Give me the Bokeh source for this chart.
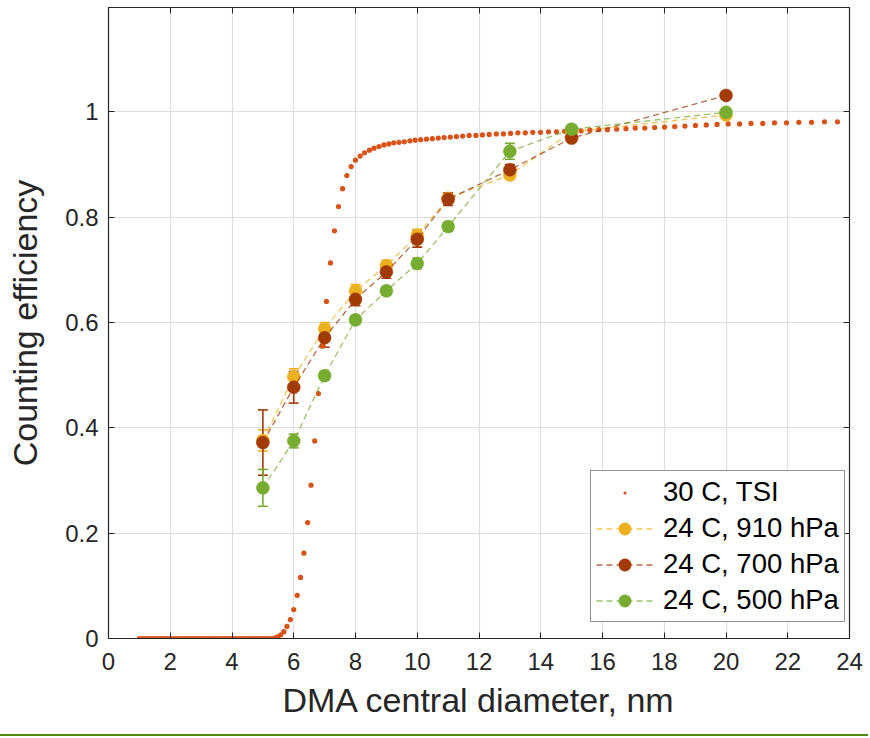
from bokeh.plotting import figure
from bokeh.models import (ColumnDataSource, Whisker, TeeHead, Legend, LegendItem,
                          FixedTicker, Range1d, LinearAxis)
from bokeh.embed import file_html
from bokeh.resources import INLINE

# ---------------- data ----------------
# TSI reference curve (30 C)
tsi_x = [1.0, 1.1, 1.2, 1.3, 1.4, 1.5, 1.6, 1.7, 1.8, 1.9,
         2.0, 2.1, 2.2, 2.3, 2.4, 2.5, 2.6, 2.7, 2.8, 2.9,
         3.0, 3.1, 3.2, 3.3, 3.4, 3.5, 3.6, 3.7, 3.8, 3.9,
         4.0, 4.1, 4.2, 4.3, 4.4, 4.5, 4.6, 4.7, 4.8, 4.9,
         5.0, 5.1, 5.2, 5.3, 5.4,
         5.48, 5.58, 5.68, 5.78, 5.89, 6.00, 6.11, 6.22, 6.33, 6.45,
         6.56, 6.68, 6.80, 6.93, 7.06, 7.19, 7.32, 7.45, 7.58, 7.72,
         7.86, 8.00, 8.15, 8.29, 8.45, 8.60, 8.76, 8.92, 9.08, 9.24,
         9.41, 9.58, 9.76, 9.93, 10.11, 10.30, 10.49, 10.68, 10.87, 11.07,
         11.27, 11.47, 11.68, 11.90, 12.11, 12.33, 12.56, 12.79, 13.02, 13.26,
         13.50, 13.74, 13.99, 14.25, 14.51, 14.77, 15.04, 15.31, 15.59, 15.88,
         16.16, 16.46, 16.76, 17.06, 17.37, 17.69, 18.01, 18.34, 18.67, 19.01,
         19.36, 19.71, 20.07, 20.44, 20.81, 21.19, 21.57, 21.96, 22.36, 22.77,
         23.19, 23.61]
tsi_y = [0.0, 0.0, 0.0, 0.0, 0.0, 0.0, 0.0, 0.0, 0.0, 0.0,
         0.0, 0.0, 0.0, 0.0, 0.0, 0.0, 0.0, 0.0, 0.0, 0.0,
         0.0, 0.0, 0.0, 0.0, 0.0, 0.0, 0.0, 0.0, 0.0, 0.0,
         0.0, 0.0, 0.0, 0.0, 0.0, 0.0, 0.0, 0.0, 0.0, 0.0,
         0.0, 0.0, 0.0, 0.0, 0.001,
         0.003, 0.007, 0.013, 0.023, 0.036, 0.055, 0.082, 0.116, 0.162, 0.220,
         0.291, 0.375, 0.465, 0.555, 0.640, 0.713, 0.774, 0.820, 0.854, 0.879,
         0.896, 0.908, 0.916, 0.922, 0.927, 0.931, 0.934, 0.937, 0.939, 0.941,
         0.942, 0.943, 0.945, 0.946, 0.947, 0.948, 0.949, 0.950, 0.951, 0.952,
         0.953, 0.954, 0.955, 0.955, 0.956, 0.957, 0.958, 0.958, 0.959, 0.960,
         0.960, 0.961, 0.961, 0.962, 0.962, 0.963, 0.963, 0.964, 0.965, 0.966,
         0.966, 0.967, 0.968, 0.969, 0.969, 0.970, 0.971, 0.972, 0.973, 0.974,
         0.975, 0.976, 0.977, 0.977, 0.978, 0.978, 0.979, 0.979, 0.980, 0.980,
         0.981, 0.981]

# measured counting efficiency at 24 C
diam = [5, 6, 7, 8, 9, 10, 11, 13, 15, 20]
eff_910 = [0.376, 0.497, 0.588, 0.660, 0.708, 0.765, 0.836, 0.880, 0.962, 0.994]
err_910 = [0.020, 0.015, 0.012, 0.012, 0.010, 0.012, 0.010, 0.008, 0.006, 0.005]
eff_700 = [0.372, 0.477, 0.571, 0.644, 0.696, 0.758, 0.834, 0.890, 0.950, 1.031]
err_700 = [0.062, 0.030, 0.018, 0.012, 0.012, 0.015, 0.012, 0.010, 0.006, 0.005]
eff_500 = [0.286, 0.375, 0.499, 0.605, 0.660, 0.712, 0.782, 0.925, 0.967, 0.999]
err_500 = [0.035, 0.013, 0.008, 0.008, 0.008, 0.010, 0.008, 0.015, 0.008, 0.006]

labels = ["30 C, TSI", "24 C, 910 hPa", "24 C, 700 hPa", "24 C, 500 hPa"]
x_ticks = [0, 2, 4, 6, 8, 10, 12, 14, 16, 18, 20, 22, 24]
y_ticks = [0, 0.2, 0.4, 0.6, 0.8, 1.0]
y_tick_labels = ["0", "0.2", "0.4", "0.6", "0.8", "1"]

# ---------------- styles ----------------
FONT = "Liberation Sans"
AX = "#262626"
C_TSI = "#D95319"
C_910 = "#EDB120"
C_700 = "#A23A05"
C_500 = "#77AC30"

p = figure(width=868, height=736, output_backend="svg", toolbar_location=None,
           x_range=Range1d(0, 24), y_range=Range1d(0, 1.198),
           min_border_left=108, min_border_right=19, min_border_top=7,
           min_border_bottom=98)
p.styles = {"border-bottom": "2px solid #4F8A10"}
p.background_fill_color = "white"
p.border_fill_color = "white"
p.outline_line_color = AX
p.outline_line_width = 1.2

for ax in (p.xaxis[0], p.yaxis[0]):
    ax.axis_line_color = AX
    ax.major_tick_line_color = AX
    ax.major_tick_in = 6
    ax.major_tick_out = 0
    ax.minor_tick_line_color = None
    ax.major_label_text_font = FONT
    ax.major_label_text_font_size = "24px"
    ax.major_label_text_color = AX
    ax.axis_label_text_font = FONT
    ax.axis_label_text_font_size = "34px"
    ax.axis_label_text_font_style = "normal"
    ax.axis_label_text_color = AX

p.xaxis.ticker = FixedTicker(ticks=x_ticks)
p.yaxis.ticker = FixedTicker(ticks=y_ticks)
p.yaxis.major_label_overrides = {t: s for t, s in zip(y_ticks, y_tick_labels)}
p.xaxis.axis_label = "DMA central diameter, nm"
p.yaxis.axis_label = "Counting efficiency"
p.xaxis.major_label_standoff = 14
p.yaxis.major_label_standoff = 10
p.xaxis.axis_label_standoff = 8
p.yaxis.axis_label_standoff = 18

# box ticks on the top and right edges (no labels there)
for loc, ticks in (("above", x_ticks), ("right", y_ticks)):
    a = LinearAxis(ticker=FixedTicker(ticks=ticks))
    a.axis_line_color = AX
    a.major_tick_line_color = AX
    a.major_tick_in = 6
    a.major_tick_out = 0
    a.minor_tick_line_color = None
    a.major_label_text_color = None
    a.major_label_standoff = 0
    p.add_layout(a, loc)

p.xgrid.ticker = FixedTicker(ticks=x_ticks)
p.ygrid.ticker = FixedTicker(ticks=y_ticks)
p.xgrid.grid_line_color = "#dedede"
p.ygrid.grid_line_color = "#dedede"
p.xgrid.grid_line_width = 1.2
p.ygrid.grid_line_width = 1.2

# TSI curve ("dot" marker keeps the legend symbol tiny, as in the original)
r_tsi = p.scatter(tsi_x, tsi_y, marker="dot", size=21, line_color=C_TSI,
                  fill_color=C_TSI, line_width=1)

items = [LegendItem(label=labels[0], renderers=[r_tsi])]
for lab, eff, err, col in ((labels[1], eff_910, err_910, C_910),
                           (labels[2], eff_700, err_700, C_700),
                           (labels[3], eff_500, err_500, C_500)):
    src = ColumnDataSource(dict(x=diam, y=eff,
                                lo=[v - e for v, e in zip(eff, err)],
                                hi=[v + e for v, e in zip(eff, err)]))
    rl = p.line("x", "y", source=src, line_color=col, line_dash="6 4",
                line_width=1.3, line_alpha=0.75)
    w = Whisker(base="x", lower="lo", upper="hi", source=src,
                line_color=col, line_width=1.6,
                lower_head=TeeHead(size=10, line_color=col, line_width=1.6),
                upper_head=TeeHead(size=10, line_color=col, line_width=1.6))
    p.add_layout(w)
    rc = p.scatter("x", "y", source=src, size=13, fill_color=col,
                   line_color=col, line_width=0.5)
    items.append(LegendItem(label=lab, renderers=[rl, rc]))

leg = Legend(items=items, location=(482, 16))
leg.label_text_font = FONT
leg.label_text_font_size = "27.5px"
leg.label_text_color = "black"
leg.border_line_color = AX
leg.border_line_width = 1.5
leg.background_fill_color = "white"
leg.background_fill_alpha = 1.0
leg.glyph_width = 57
leg.glyph_height = 31
leg.label_height = 31
leg.spacing = 4
leg.padding = 5
leg.margin = 0
leg.label_standoff = 10
p.add_layout(leg, "center")

open("out.html", "w").write(file_html(p, INLINE))
